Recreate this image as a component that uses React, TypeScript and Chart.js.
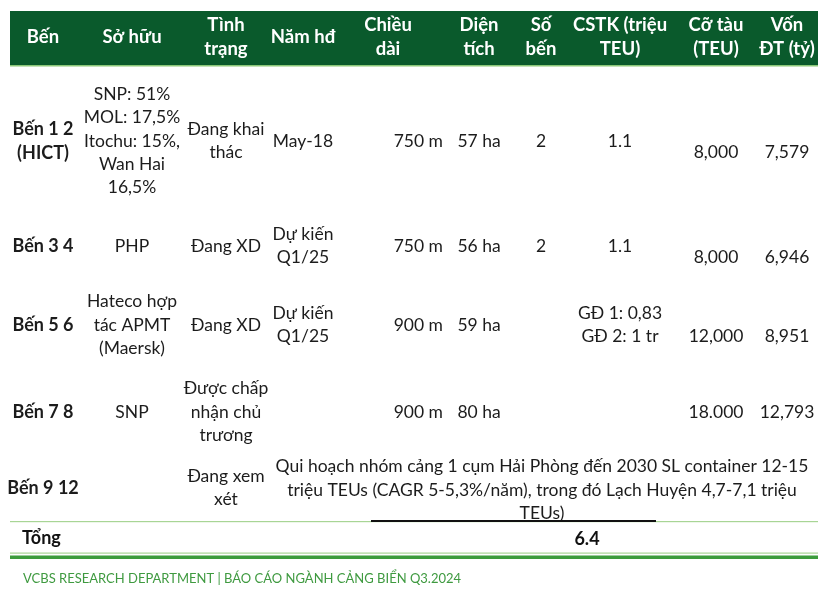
import React, { useEffect, useRef } from "react";
import { Chart, registerables } from "chart.js";

Chart.register(...registerables);

// ---------- data ----------
const headers = ["Bến", "Sở hữu", "Tình\ntrạng", "Năm hđ", "Chiều\ndài", "Diện\ntích", "Số\nbến", "CSTK (triệu\nTEU)", "Cỡ tàu\n(TEU)", "Vốn\nĐT (tỷ)"];
const berths = ["Bến 1 2\n(HICT)", "Bến 3 4", "Bến 5 6", "Bến 7 8", "Bến 9 12"];
const owners = ["SNP: 51%\nMOL: 17,5%\nItochu: 15%,\nWan Hai\n16,5%", "PHP", "Hateco hợp\ntác APMT\n(Maersk)", "SNP", ""];
const statuses = ["Đang khai\nthác", "Đang XD", "Đang XD", "Được chấp\nnhận chủ\ntrương", "Đang xem\nxét"];
const opYears = ["May-18", "Dự kiến\nQ1/25", "Dự kiến\nQ1/25", "", ""];
const lengths = ["750 m", "750 m", "900 m", "900 m", ""];
const areas = ["57 ha", "56 ha", "59 ha", "80 ha", ""];
const berthCounts = ["2", "2", "", "", ""];
const capacities = ["1.1", "1.1", "GĐ 1: 0,83\nGĐ 2: 1 tr", "", ""];
const vesselSizes = ["8,000", "8,000", "12,000", "18.000", ""];
const investments = ["7,579", "6,946", "8,951", "12,793", ""];
const planNote = "Qui hoạch nhóm cảng 1 cụm Hải Phòng đến 2030 SL container 12-15\ntriệu TEUs (CAGR 5-5,3%/năm), trong đó Lạch Huyện 4,7-7,1 triệu\nTEUs)";
const totalLabel = "Tổng";
const totalValue = "6.4";
const footer = "VCBS RESEARCH DEPARTMENT | BÁO CÁO NGÀNH CẢNG BIỂN Q3.2024";

// ---------- layout (positions in scale units) ----------
const W = 832;
const H = 599;
const colX = [43, 132, 226, 303, 443, 479, 541, 620, 716, 787];
const colAlign: CanvasTextAlign[] = ["center", "center", "center", "center", "right", "center", "center", "center", "center", "center"];
const rowY = [141, 246, 325, 412, 488];
const lastColsShift = [11, 11, 11, 0, 0];
const lineH = 23.4;
const FONT = "Lato, 'Noto Sans', sans-serif";
const BODY = 17.5;
const BODY_BOLD = 18;
const HEAD = 18.5;

const tablePlugin = {
  id: "tableDraw",
  afterDraw(chart: any) {
    const ctx: CanvasRenderingContext2D = chart.ctx;
    const xs = chart.scales.x;
    const ys = chart.scales.y;
    const px = (v: number) => xs.getPixelForValue(v);
    const py = (v: number) => ys.getPixelForValue(v);

    const multi = (text: string, x: number, yc: number, align: CanvasTextAlign) => {
      if (!text) return;
      const lines = text.split("\n");
      const n = lines.length;
      ctx.textAlign = align;
      ctx.textBaseline = "middle";
      lines.forEach((ln, i) => {
        const y = yc + (i - (n - 1) / 2) * lineH;
        ctx.fillText(ln, px(x), py(y));
      });
    };

    ctx.save();
    // header band
    ctx.fillStyle = "#0a5a2c";
    ctx.fillRect(px(10), py(11), px(818) - px(10), py(65) - py(11));
    ctx.fillStyle = "#8cc878";
    ctx.fillRect(px(10), py(65), px(818) - px(10), 1.5);

    ctx.fillStyle = "#ffffff";
    ctx.font = `bold ${HEAD}px ${FONT}`;
    headers.forEach((h, i) => {
      multi(h, i === 4 ? 388 : colX[i], 37, "center");
    });

    // body
    ctx.fillStyle = "#1c1c1c";
    const cols = [berths, owners, statuses, opYears, lengths, areas, berthCounts, capacities, vesselSizes, investments];
    cols.forEach((col, ci) => {
      ctx.font = ci === 0 ? `bold ${BODY_BOLD}px ${FONT}` : `${BODY}px ${FONT}`;
      col.forEach((val, ri) => {
        const shift = ci >= 8 ? lastColsShift[ri] : 0;
        multi(val, colX[ci], rowY[ri] + shift, colAlign[ci]);
      });
    });
    ctx.font = `${BODY}px ${FONT}`;
    multi(planNote, 542, 490, "center");

    // lines under last row
    ctx.fillStyle = "#a8d595";
    ctx.fillRect(px(10), py(521), px(818) - px(10), 1.2);
    ctx.fillStyle = "#111111";
    ctx.fillRect(px(371), py(520), px(656) - px(371), 2);

    // total row
    ctx.fillStyle = "#111111";
    ctx.font = `bold ${BODY_BOLD}px ${FONT}`;
    ctx.textAlign = "left";
    ctx.textBaseline = "middle";
    ctx.fillText(totalLabel, px(22), py(538));
    ctx.textAlign = "center";
    ctx.fillText(totalValue, px(587), py(539));

    ctx.fillStyle = "#a8d595";
    ctx.fillRect(px(10), py(552.5), px(818) - px(10), 1.2);
    ctx.fillStyle = "#3c9c3c";
    ctx.fillRect(px(10), py(555.5), px(818) - px(10), 3.5);

    // footer
    ctx.fillStyle = "#3f9a40";
    ctx.font = `13px ${FONT}`;
    ctx.textAlign = "left";
    ctx.fillText(footer, px(23), py(579));
    ctx.restore();
  },
};

export default function App() {
  const ref = useRef<HTMLCanvasElement | null>(null);
  useEffect(() => {
    if (!ref.current) return;
    const chart = new Chart(ref.current, {
      type: "scatter",
      data: { datasets: [{ data: [], pointRadius: 0 }] },
      options: {
        animation: false,
        responsive: false,
        maintainAspectRatio: false,
        layout: { padding: 0 },
        plugins: { legend: { display: false }, tooltip: { enabled: false } },
        scales: {
          x: { type: "linear", min: 0, max: W, display: false },
          y: { type: "linear", min: 0, max: H, reverse: true, display: false },
        },
      },
      plugins: [tablePlugin],
    });
    return () => chart.destroy();
  }, []);
  return (
    <div style={{ position: "fixed", left: 0, top: 0, width: W, height: H, background: "#fff" }}>
      <canvas ref={ref} width={W} height={H} style={{ width: W, height: H, display: "block" }} />
    </div>
  );
}
